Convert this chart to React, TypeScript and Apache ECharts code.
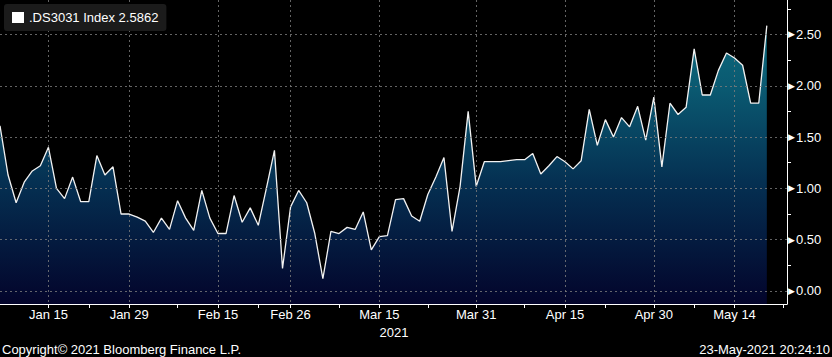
import React, { useEffect, useRef } from "react";
import * as echarts from "echarts";

// Business days shown on the chart (index = position on the x axis)
const dates = [
  "2021-01-07", "2021-01-08", "2021-01-11", "2021-01-12", "2021-01-13", "2021-01-14", "2021-01-15",
  "2021-01-18", "2021-01-19", "2021-01-20", "2021-01-21", "2021-01-22", "2021-01-25", "2021-01-26",
  "2021-01-27", "2021-01-28", "2021-01-29",
  "2021-02-01", "2021-02-02", "2021-02-03", "2021-02-04", "2021-02-05", "2021-02-08", "2021-02-09",
  "2021-02-10", "2021-02-11", "2021-02-12", "2021-02-15", "2021-02-16", "2021-02-17", "2021-02-18",
  "2021-02-19", "2021-02-22", "2021-02-23", "2021-02-24", "2021-02-25", "2021-02-26",
  "2021-03-01", "2021-03-02", "2021-03-03", "2021-03-04", "2021-03-05", "2021-03-08", "2021-03-09",
  "2021-03-10", "2021-03-11", "2021-03-12", "2021-03-15", "2021-03-16", "2021-03-17", "2021-03-18",
  "2021-03-19", "2021-03-22", "2021-03-23", "2021-03-24", "2021-03-25", "2021-03-26", "2021-03-29",
  "2021-03-30", "2021-03-31",
  "2021-04-01", "2021-04-02", "2021-04-05", "2021-04-06", "2021-04-07", "2021-04-08", "2021-04-09",
  "2021-04-12", "2021-04-13", "2021-04-14", "2021-04-15", "2021-04-16", "2021-04-19", "2021-04-20",
  "2021-04-21", "2021-04-22", "2021-04-23", "2021-04-26", "2021-04-27", "2021-04-28", "2021-04-29",
  "2021-04-30",
  "2021-05-03", "2021-05-04", "2021-05-05", "2021-05-06", "2021-05-07", "2021-05-10", "2021-05-11",
  "2021-05-12", "2021-05-13", "2021-05-14", "2021-05-17", "2021-05-18", "2021-05-19", "2021-05-20",
  "2021-05-21", "2021-05-24",
];

// .DS3031 Index values, one per business day from 2021-01-07 to 2021-05-20
const values = [
  1.61, 1.13, 0.86, 1.06, 1.17, 1.22, 1.40, 1.00, 0.90, 1.11,
  0.87, 0.87, 1.32, 1.13, 1.21, 0.75, 0.75, 0.72, 0.68, 0.57,
  0.71, 0.60, 0.88, 0.71, 0.59, 0.98, 0.71, 0.56, 0.56, 0.93,
  0.67, 0.81, 0.64, 1.00, 1.37, 0.22, 0.82, 0.98, 0.86, 0.56,
  0.12, 0.58, 0.56, 0.62, 0.60, 0.77, 0.40, 0.53, 0.54, 0.89,
  0.90, 0.73, 0.68, 0.94, 1.11, 1.30, 0.58, 1.02, 1.75, 1.02,
  1.26, 1.26, 1.26, 1.27, 1.28, 1.28, 1.34, 1.14, 1.22, 1.31,
  1.26, 1.19, 1.27, 1.77, 1.42, 1.67, 1.50, 1.69, 1.60, 1.80,
  1.47, 1.89, 1.21, 1.83, 1.72, 1.79, 2.36, 1.91, 1.91, 2.15,
  2.32, 2.27, 2.20, 1.83, 1.83, 2.5862,
];

const labelDates = [
  "2021-01-15", "2021-01-29", "2021-02-15", "2021-02-26", "2021-03-15",
  "2021-03-31", "2021-04-15", "2021-04-30", "2021-05-14",
];
const minorTickDates = [
  "2021-01-22", "2021-02-08", "2021-02-22", "2021-03-08", "2021-03-23",
  "2021-04-08", "2021-04-22", "2021-05-07", "2021-05-24",
];
const yMajorTicks = [0, 0.5, 1, 1.5, 2, 2.5];
const yMinorTicks = [0.25, 0.75, 1.25, 1.75, 2.25, 2.75];

const seriesName = ".DS3031 Index";
const lastValueText = "2.5862";
const yearLabel = "2021";
const copyrightText = "Copyright\u00a9 2021 Bloomberg Finance L.P.";
const timestampText = "23-May-2021 20:24:10";

const MONTHS = ["Jan", "Feb", "Mar", "Apr", "May", "Jun", "Jul", "Aug", "Sep", "Oct", "Nov", "Dec"];
const fmtDate = (d: string) => `${MONTHS[Number(d.slice(5, 7)) - 1]} ${d.slice(8, 10)}`;

const FONT = "'Liberation Sans', Arial, sans-serif";

export default function App() {
  const ref = useRef<HTMLDivElement>(null);

  useEffect(() => {
    if (!ref.current) return;
    const chart = echarts.init(ref.current, null, { renderer: "svg" });

    const labelIdx = labelDates.map((d) => dates.indexOf(d));
    const minorIdx = minorTickDates.map((d) => dates.indexOf(d));
    const data = values.map((v, i) => [i, v]);

    const gridLine = { color: "rgba(125,125,125,0.8)", width: 1, type: [2, 3] as number[] };

    const option: any = {
      animation: false,
      backgroundColor: "#000000",
      textStyle: { fontFamily: FONT },
      grid: { left: 0, right: 45, top: 0, bottom: 53, containLabel: false },
      legend: {
        left: 4,
        top: 4,
        padding: [7, 8, 7, 8],
        backgroundColor: "#1b1b1b",
        borderRadius: 3,
        icon: "rect",
        itemWidth: 12,
        itemHeight: 11,
        selectedMode: false,
        data: [seriesName],
        formatter: (name: string) => `${name} ${lastValueText}`,
        textStyle: { color: "#ffffff", fontSize: 13, fontFamily: FONT },
      },
      xAxis: [
        {
          type: "value",
          min: 0,
          max: 97.5,
          position: "bottom",
          z: 3,
          axisLine: { show: true, onZero: false, lineStyle: { color: "#ffffff", width: 1 } },
          axisTick: { show: true, length: 4, customValues: labelIdx, lineStyle: { color: "#ffffff" } },
          axisLabel: {
            customValues: labelIdx,
            formatter: (v: number) => fmtDate(dates[Math.round(v)]),
            color: "#ffffff",
            fontSize: 13,
            fontFamily: FONT,
            margin: 4,
          },
          splitLine: { show: true, lineStyle: gridLine },
        },
        {
          type: "value",
          min: 0,
          max: 97.5,
          position: "bottom",
          z: 3,
          axisLine: { show: false, onZero: false },
          axisTick: { show: true, length: 4, customValues: minorIdx, lineStyle: { color: "#ffffff" } },
          axisLabel: { show: false },
          splitLine: { show: false },
        },
      ],
      yAxis: [
        {
          type: "value",
          min: -0.127,
          max: 2.836,
          position: "right",
          z: 3,
          axisLine: { show: true, onZero: false, lineStyle: { color: "#ffffff", width: 1 } },
          axisTick: { show: false, customValues: yMajorTicks },
          axisLabel: {
            customValues: yMajorTicks,
            margin: 1,
            formatter: (v: number) => `{t|\u25B6}{v|${v.toFixed(2)}}`,
            rich: {
              t: { fontSize: 9, color: "#ffffff", fontFamily: "'DejaVu Sans'", padding: [0, 1, 0, 0] },
              v: { fontSize: 13, color: "#ffffff", fontFamily: FONT },
            },
          },
          splitLine: { show: true, lineStyle: gridLine },
        },
        {
          type: "value",
          min: -0.127,
          max: 2.836,
          position: "right",
          z: 3,
          axisLine: { show: false, onZero: false },
          axisTick: { show: true, length: 4, customValues: yMinorTicks, lineStyle: { color: "#ffffff" } },
          axisLabel: { show: false },
          splitLine: { show: false },
        },
      ],
      series: [
        {
          name: seriesName,
          type: "line",
          xAxisIndex: 0,
          yAxisIndex: 0,
          data,
          symbol: "none",
          showSymbol: false,
          z: 2,
          itemStyle: { color: "#ffffff" },
          lineStyle: { color: "#f2f2f2", width: 1.3 },
          areaStyle: {
            origin: "start",
            opacity: 1,
            color: {
              type: "linear",
              x: 0,
              y: 0,
              x2: 0,
              y2: 304,
              global: true,
              colorStops: [
                { offset: 0, color: "#0e7383" },
                { offset: 0.3, color: "#0a5870" },
                { offset: 0.6, color: "#053052" },
                { offset: 1, color: "#03042b" },
              ],
            },
          },
        },
      ],
      graphic: [
        {
          type: "text",
          x: 394,
          y: 332,
          style: {
            text: yearLabel,
            fill: "#ffffff",
            font: `13px ${FONT}`,
            align: "center",
            verticalAlign: "middle",
          },
        },
        {
          type: "text",
          x: 2,
          y: 349,
          style: {
            text: copyrightText,
            fill: "#ffffff",
            font: `13px ${FONT}`,
            align: "left",
            verticalAlign: "middle",
          },
        },
        {
          type: "text",
          x: 830,
          y: 349,
          style: {
            text: timestampText,
            fill: "#ffffff",
            font: `13px ${FONT}`,
            align: "right",
            verticalAlign: "middle",
          },
        },
      ],
    };

    chart.setOption(option);
    return () => chart.dispose();
  }, []);

  return (
    <div
      ref={ref}
      style={{ position: "fixed", left: 0, top: 0, width: 832, height: 357, background: "#000000" }}
    />
  );
}
